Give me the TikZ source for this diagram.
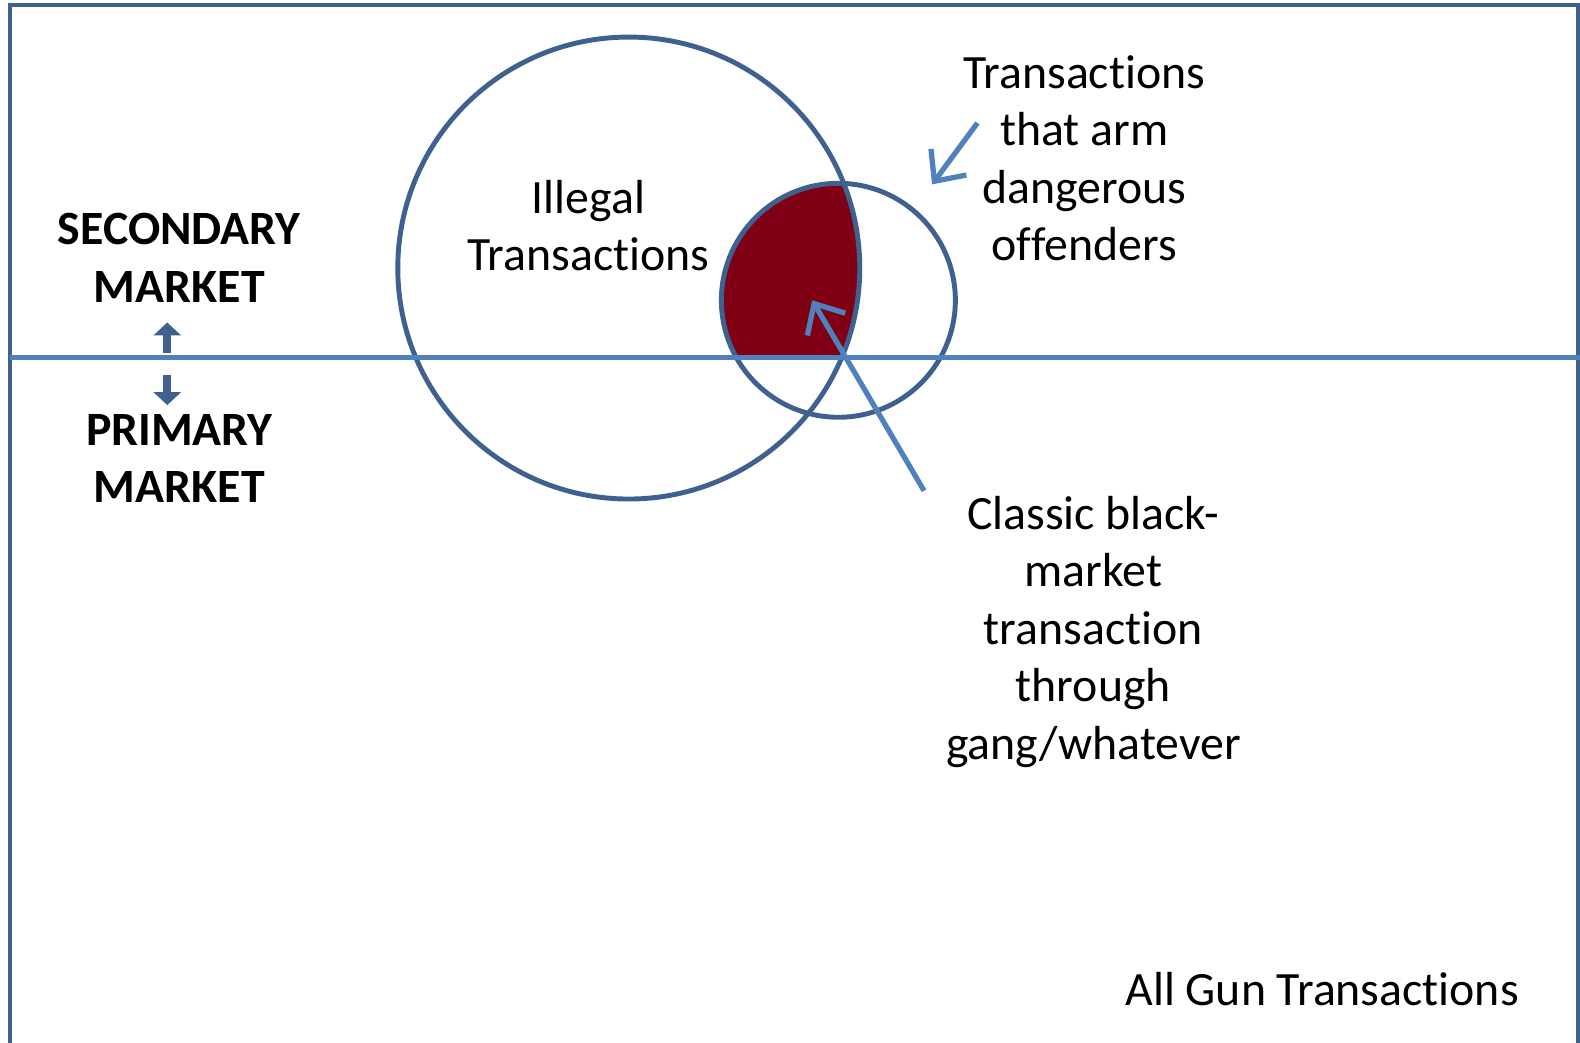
\documentclass[tikz,border=0pt]{standalone}
\usepackage{fontspec}
\setmainfont{Carlito}[Ligatures=NoCommon]
\usetikzlibrary{positioning,arrows.meta}
\definecolor{frameblue}{HTML}{3F6190}
\definecolor{lineblue}{HTML}{4F81BD}
\definecolor{blackmkt}{HTML}{800016}
\tikzset{
  lbl/.style={align=center, font=\fontsize{13.6}{16.4}\selectfont, inner sep=0pt},
  mkt/.style={lbl, font=\fontsize{13.6}{16.4}\selectfont\bfseries},
  ring/.style={circle, draw=frameblue, line width=1.4pt, inner sep=0pt},
  ptr/.style={draw=lineblue, line width=1.5pt, -{Straight Barb[length=2.4mm,width=4.4mm]}},
  updown/.style={draw=frameblue, line width=2.3pt, -{Triangle[length=1.3mm,width=2.7mm]}}
}

\begin{document}
\begin{tikzpicture}[x=1.0077cm, y=1.0077cm]
  \useasboundingbox (0,0) rectangle (15.68,-10.35);
  % ------------------------------------------------------------------ overlap
  \begin{scope}
    \clip (0.10,-0.05) rectangle (15.66,-3.55);
    \clip (6.24,-2.66) circle (2.29);
    \fill[blackmkt] (8.32,-2.98) circle (1.16);
  \end{scope}
  % ------------------------------------------------------------------ sets
  \node[ring, minimum size=4.62cm] (illegal) at (6.24,-2.66) {};
  \node[ring, minimum size=2.34cm] (armed) at (8.32,-2.98) {};
  % ------------------------------------------------------------------ frame
  \draw[frameblue, line width=1.3pt] (0.10,-10.35) -- (0.10,-0.05) -- (15.66,-0.05) -- (15.66,-10.35);
  \draw[lineblue, line width=1.3pt] (0.10,-3.55) -- (15.68,-3.55);
  % ------------------------------------------------------------------ labels
  \node[lbl] (illegaltxt) at (5.84,-2.24) {Illegal\\Transactions};
  \node[lbl] (armtxt) at (10.76,-1.57) {Transactions\\that arm\\dangerous\\offenders};
  \node[lbl] (classic) at (10.85,-6.27) {Classic black-\\market\\transaction\\through\\gang/whatever};
  \node[lbl, anchor=east] (alltxt) at (15.08,-9.82) {All Gun Transactions};
  \node[mkt] (secondary) at (1.78,-2.56) {SECONDARY\\MARKET};
  \node[mkt] (primary) at (1.78,-4.55) {PRIMARY\\MARKET};
  % ------------------------------------------------------------------ arrows
  \coordinate (armtail) at (9.70,-1.22);
  \coordinate (armhead) at (9.25,-1.83);
  \coordinate (classictail) at (9.17,-4.87);
  \coordinate (classichead) at (8.06,-2.98);
  \draw[ptr] (armtail) -- (armhead);
  \draw[ptr] (classictail) -- (classichead);
  \coordinate (upfoot) at (1.66,-3.50);
  \coordinate (uptip) at (1.66,-3.20);
  \coordinate (downfoot) at (1.66,-3.72);
  \coordinate (downtip) at (1.66,-4.02);
  \draw[updown] (upfoot) -- (uptip);
  \draw[updown] (downfoot) -- (downtip);
\end{tikzpicture}
\end{document}
